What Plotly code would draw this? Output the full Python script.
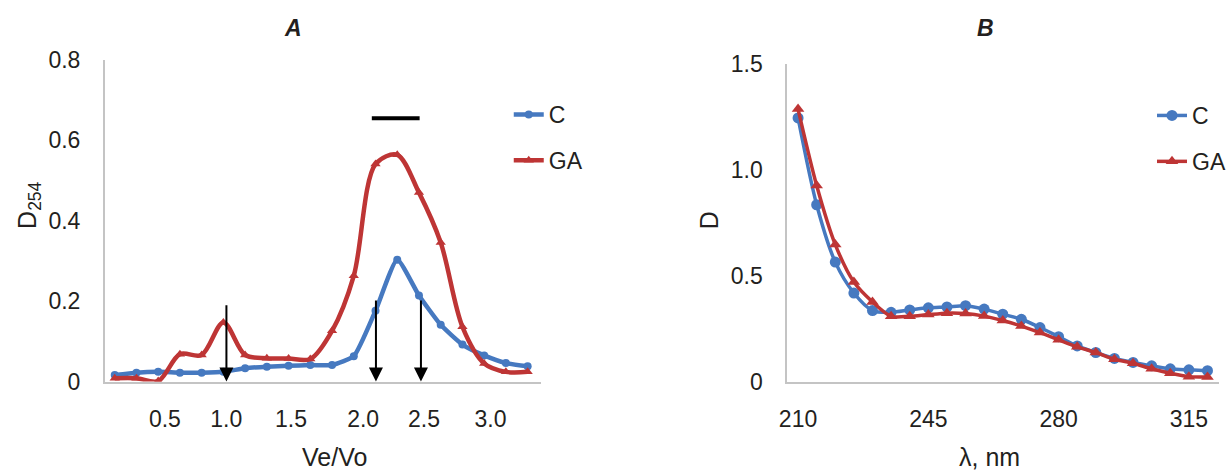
import plotly.graph_objects as go

# ---------------- Data ----------------
# Panel A: elution fractions (evenly spaced points) and D254
a_fraction = list(range(1, 21))
a_C = [0.016, 0.022, 0.024, 0.022, 0.022, 0.024, 0.033, 0.037, 0.039, 0.041,
       0.041, 0.063, 0.176, 0.303, 0.214, 0.141, 0.092, 0.065, 0.046, 0.038]
a_GA = [0.008, 0.008, 0.001, 0.068, 0.066, 0.147, 0.066, 0.058, 0.057, 0.056,
        0.126, 0.263, 0.541, 0.564, 0.470, 0.346, 0.136, 0.045, 0.024, 0.024]
a_tick_labels = ["0.5", "1.0", "1.5", "2.0", "2.5", "3.0"]
a_tick_pos = [3.31, 6.13, 9.11, 12.43, 15.23, 18.29]
a_arrow_x = [6.14, 13.02, 15.09]
a_arrow_top = [0.211, 0.223, 0.223]
a_bar_x = [12.83, 15.03]
a_bar_y = 0.655

# Panel B: wavelength (nm) and D
b_wavelength = [210, 215, 220, 225, 230, 235, 240, 245, 250, 255, 260, 265,
                270, 275, 280, 285, 290, 295, 300, 305, 310, 315, 320]
b_C = [1.245, 0.835, 0.564, 0.418, 0.335, 0.327, 0.338, 0.348, 0.352, 0.358,
       0.342, 0.318, 0.294, 0.255, 0.212, 0.168, 0.137, 0.109, 0.090, 0.074,
       0.060, 0.055, 0.051]
b_GA = [1.287, 0.926, 0.647, 0.470, 0.376, 0.308, 0.308, 0.316, 0.323, 0.321,
        0.309, 0.288, 0.262, 0.231, 0.197, 0.164, 0.137, 0.105, 0.086, 0.060,
        0.039, 0.023, 0.021]
b_tick_vals = [210, 245, 280, 315]

# ---------------- Style ----------------
W, H = 1231, 470
BLUE = "#4679C0"
RED = "#BE3535"
FONT = "Liberation Sans, Arial, sans-serif"
TXT = "#231f20"
AXC = "#c4c4c4"

def px(x):
    return x / W

def py(y):
    return 1 - y / H

fig = go.Figure()

# Panel A traces
fig.add_trace(go.Scatter(
    x=a_fraction, y=a_C, name="C", mode="lines+markers",
    line=dict(color=BLUE, width=4.5, shape="spline", smoothing=0.5),
    marker=dict(symbol="circle", size=8, color=BLUE),
    xaxis="x", yaxis="y", legend="legend", legendgroup="a1"))
fig.add_trace(go.Scatter(
    x=a_fraction, y=a_GA, name="GA", mode="lines+markers",
    line=dict(color=RED, width=4.5, shape="spline", smoothing=0.9),
    marker=dict(symbol="triangle-up", size=9, color=RED),
    xaxis="x", yaxis="y", legend="legend", legendgroup="a2"))

# Panel B traces
fig.add_trace(go.Scatter(
    x=b_wavelength, y=b_C, name="C", mode="lines+markers",
    line=dict(color=BLUE, width=3.5, shape="spline", smoothing=0.8),
    marker=dict(symbol="circle", size=11, color=BLUE),
    xaxis="x2", yaxis="y2", legend="legend2", legendgroup="b1"))
fig.add_trace(go.Scatter(
    x=b_wavelength, y=b_GA, name="GA", mode="lines+markers",
    line=dict(color=RED, width=3.5, shape="spline", smoothing=0.8),
    marker=dict(symbol="triangle-up", size=11, color=RED),
    xaxis="x2", yaxis="y2", legend="legend2", legendgroup="b2"))

annotations = []
# Arrows in panel A
for xa, ya in zip(a_arrow_x, a_arrow_top):
    annotations.append(dict(
        x=xa, y=0, ax=xa, ay=ya, xref="x", yref="y", axref="x", ayref="y",
        showarrow=True, arrowhead=2, arrowsize=1.4, arrowwidth=2,
        arrowcolor="black", text=" "))

shapes = [dict(type="line", xref="x", yref="y",
               x0=a_bar_x[0], x1=a_bar_x[1], y0=a_bar_y, y1=a_bar_y,
               line=dict(color="black", width=4))]

def lab(text, x, y, size, angle=0):
    return dict(text=text, x=px(x), y=py(y), xref="paper", yref="paper",
                xanchor="center", yanchor="middle", showarrow=False,
                textangle=angle, font=dict(size=size, family=FONT, color=TXT))

# Titles and axis titles
annotations += [
    lab("<b><i>A</i></b>", 294, 28, 23),
    lab("<b><i>B</i></b>", 988, 28, 23),
    lab("D<sub>254</sub>", 29, 205, 25, -90),
    lab("Ve/Vo", 335, 457, 25),
    lab("D", 711, 220, 25, -90),
    lab("λ, nm", 992, 457, 25),
]

tickfont = dict(size=23, family=FONT, color=TXT)

fig.update_layout(
    width=W, height=H,
    margin=dict(l=0, r=0, t=0, b=0, pad=0),
    paper_bgcolor="white", plot_bgcolor="white",
    font=dict(family=FONT, color=TXT),
    showlegend=True,
    xaxis=dict(domain=[px(105), px(542)], range=[0.541, 20.6],
               tickmode="array", tickvals=a_tick_pos, ticktext=a_tick_labels,
               showgrid=False, zeroline=False, showline=True, linecolor=AXC,
               linewidth=1.5, ticks="", tickfont=tickfont, ticklabelstandoff=16,
               anchor="y", automargin=False),
    yaxis=dict(domain=[py(381.5), py(60)], range=[0, 0.8],
               tickmode="array", tickvals=[0, 0.2, 0.4, 0.6, 0.8],
               ticktext=["0", "0.2", "0.4", "0.6", "0.8"],
               showgrid=False, zeroline=False, showline=True, linecolor=AXC,
               linewidth=1.5, ticks="", tickfont=tickfont, ticklabelstandoff=18,
               anchor="x", automargin=False),
    xaxis2=dict(domain=[px(789), px(1222)], range=[207.05, 323.1],
                tickmode="array", tickvals=b_tick_vals,
                ticktext=[str(v) for v in b_tick_vals],
                showgrid=False, zeroline=False, showline=True, linecolor=AXC,
                linewidth=1.5, ticks="", tickfont=tickfont, ticklabelstandoff=16,
                anchor="y2", automargin=False),
    yaxis2=dict(domain=[py(381.5), py(64)], range=[0, 1.5],
                tickmode="array", tickvals=[0, 0.5, 1.0, 1.5],
                ticktext=["0", "0.5", "1.0", "1.5"],
                showgrid=False, zeroline=False, showline=True, linecolor=AXC,
                linewidth=1.5, ticks="", tickfont=tickfont, ticklabelstandoff=18,
                anchor="x2", automargin=False),
    legend=dict(x=px(510), y=py(93), xanchor="left", yanchor="top",
                font=dict(size=23, family=FONT, color=TXT),
                tracegroupgap=13, bgcolor="rgba(0,0,0,0)", borderwidth=0),
    legend2=dict(x=px(1155), y=py(94), xanchor="left", yanchor="top",
                 font=dict(size=23, family=FONT, color=TXT),
                 tracegroupgap=13, bgcolor="rgba(0,0,0,0)", borderwidth=0),
    annotations=annotations,
    shapes=shapes,
)

fig.write_html("out.html",
               config={"displayModeBar": False},
               post_script="document.body.style.margin='0';document.body.style.padding='0';")
